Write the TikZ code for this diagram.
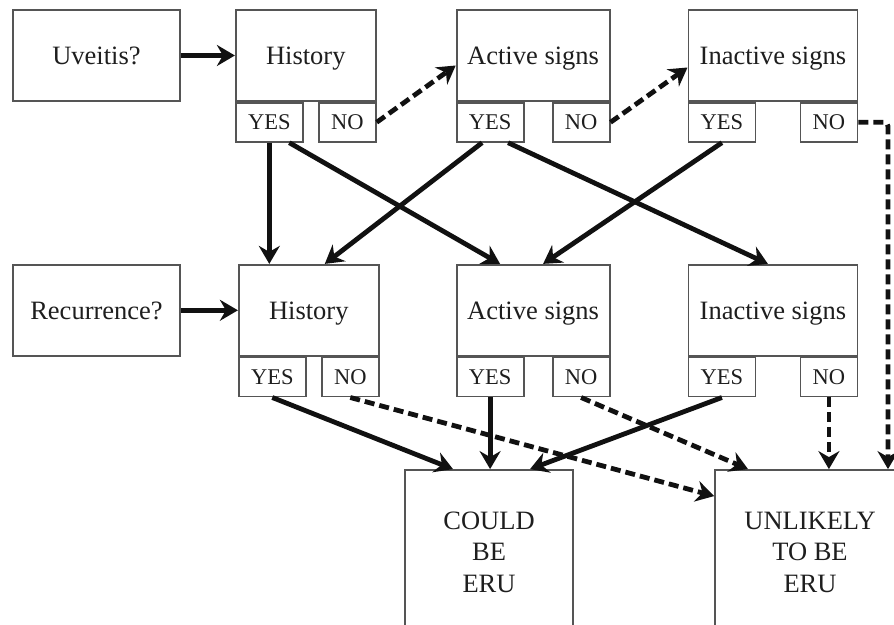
\documentclass[tikz,border=0pt]{standalone}
\usepackage{fontspec}
\setmainfont{Liberation Serif}
\usetikzlibrary{arrows.meta,positioning}
\definecolor{BoxLine}{HTML}{555555}
\definecolor{InkBlack}{HTML}{111111}
\definecolor{TextDark}{HTML}{1E1E1E}
\tikzset{
  box/.style={draw=BoxLine, line width=1.8pt, align=center, inner sep=0pt, text=TextDark, text depth=0pt, minimum height=91pt},
  yesbox/.style={draw=BoxLine, line width=1.8pt, inner sep=0pt, text=TextDark, minimum width=67pt, minimum height=39pt, font=\fontsize{22.5}{27}\selectfont},
  nobox/.style={yesbox, minimum width=57pt},
  endbox/.style={box, minimum height=164pt},
  arrow/.style={-{Stealth[length=18pt,width=21pt,inset=6pt]}, line width=4.8pt, draw=InkBlack},
  dasharrow/.style={arrow, dash pattern=on 10pt off 5pt}
}

\begin{document}
\begin{tikzpicture}[node distance=54pt, every node/.style={font=\fontsize{26.5}{31.5}\selectfont}]
\useasboundingbox (0,0) rectangle (894pt,624pt);
\clip (0,0) rectangle (894pt,624pt);
% first round: uveitis
\node[box, minimum width=167pt] (uveitis) at (96.5pt,568.5pt) {Uveitis?};
\node[box, minimum width=140pt, right=of uveitis] (hist1) {History};
\node[box, minimum width=153pt, right=79pt of hist1] (act1) {Active signs};
\node[box, minimum width=169pt, right=77pt of act1] (inact1) {Inactive signs};
% second round: recurrence
\node[box, minimum width=167pt, below=162pt of uveitis] (recur) {Recurrence?};
\node[box, minimum width=140pt, right=57pt of recur] (hist2) {History};
\node[box, minimum width=153pt, right=76pt of hist2] (act2) {Active signs};
\node[box, minimum width=169pt, right=77pt of act2] (inact2) {Inactive signs};
% answer tabs
\node[yesbox, below right=0pt and 0pt of hist1.south west] (hist1yes) {YES};
\node[nobox, below left=0pt and 0pt of hist1.south east] (hist1no) {NO};
\node[yesbox, below right=0pt and 0pt of act1.south west] (act1yes) {YES};
\node[nobox, below left=0pt and 0pt of act1.south east] (act1no) {NO};
\node[yesbox, below right=0pt and 0pt of inact1.south west] (inact1yes) {YES};
\node[nobox, below left=0pt and 0pt of inact1.south east] (inact1no) {NO};
\node[yesbox, below right=0pt and 0pt of hist2.south west] (hist2yes) {YES};
\node[nobox, below left=0pt and 0pt of hist2.south east] (hist2no) {NO};
\node[yesbox, below right=0pt and 0pt of act2.south west] (act2yes) {YES};
\node[nobox, below left=0pt and 0pt of act2.south east] (act2no) {NO};
\node[yesbox, below right=0pt and 0pt of inact2.south west] (inact2yes) {YES};
\node[nobox, below left=0pt and 0pt of inact2.south east] (inact2no) {NO};
% outcomes, cut off by the page edge
\node[endbox, minimum width=168pt] (could) at (489pt,72pt) {COULD\\BE\\ERU};
\node[endbox, minimum width=190pt] (unlikely) at (810pt,72pt) {UNLIKELY\\TO BE\\ERU};
% connectors
\draw[arrow] (uveitis) -- (hist1);
\draw[arrow] (recur) -- (hist2);
\draw[dasharrow] (hist1no.east) -- ([yshift=-10pt]act1.west);
\draw[dasharrow] (act1no.east) -- ([yshift=-12pt]inact1.west);
\draw[dasharrow, rounded corners=4pt] (inact1no.east) -| ([xshift=78pt]unlikely.north);
\draw[arrow] (hist1yes.south) -- (hist1yes.south |- hist2.north);
\draw[arrow] ([xshift=20pt]hist1yes.south) -- ([xshift=-33pt]act2.north);
\draw[arrow] ([xshift=-8pt]act1yes.south) -- ([xshift=16pt]hist2.north);
\draw[arrow] ([xshift=18pt]act1yes.south) -- ([xshift=-5pt]inact2.north);
\draw[arrow] (inact1yes.south) -- ([xshift=10pt]act2.north);
\draw[arrow] (hist2yes.south) -- ([xshift=-36pt]could.north);
\draw[dasharrow] (hist2no.south) -- ([yshift=-27pt]unlikely.north west);
\draw[arrow] (act2yes.south) -- (act2yes.south |- could.north);
\draw[dasharrow] (act2no.south) -- ([xshift=-62pt]unlikely.north);
\draw[arrow] (inact2yes.south) -- ([xshift=41pt]could.north);
\draw[dasharrow] (inact2no.south) -- (inact2no.south |- unlikely.north);
\end{tikzpicture}
\end{document}
